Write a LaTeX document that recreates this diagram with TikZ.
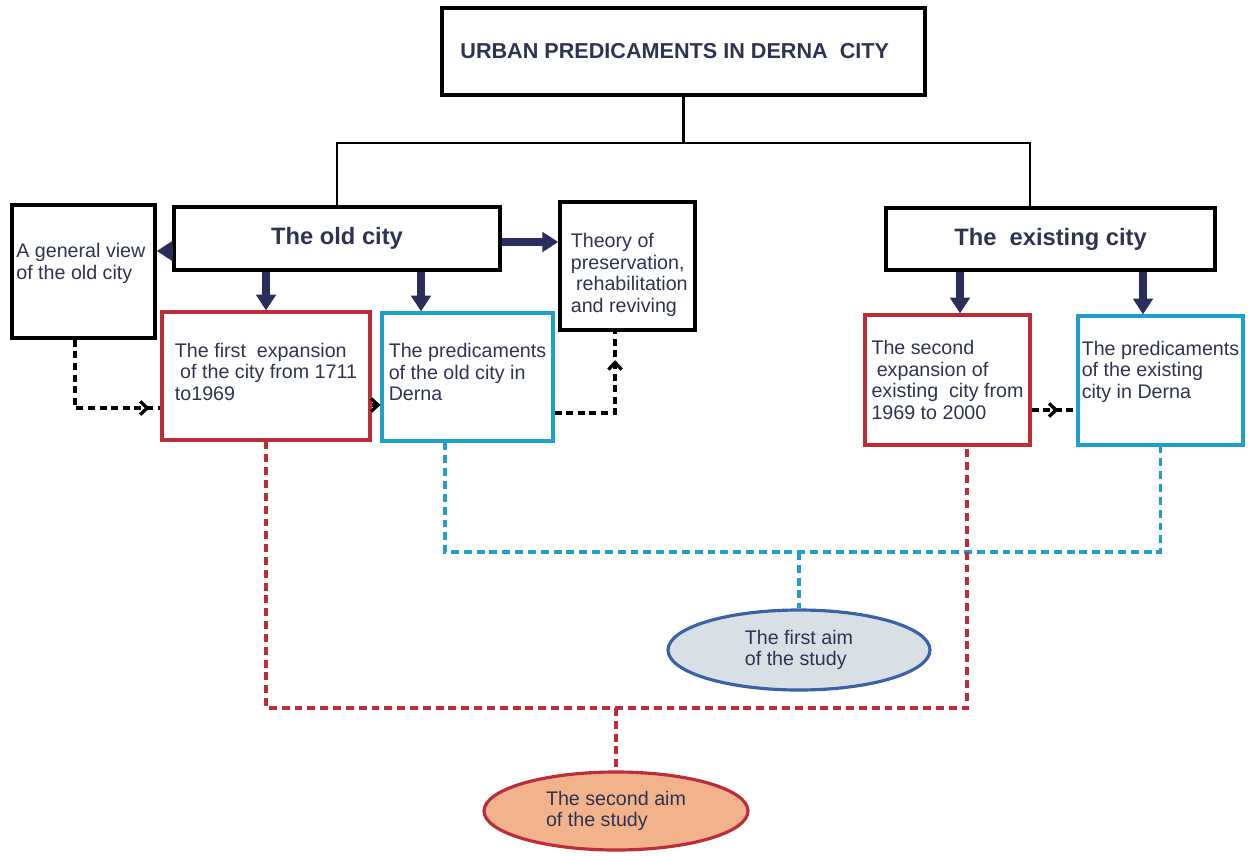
\documentclass[tikz,border=0pt]{standalone}
\usepackage{fontspec}
\setmainfont{Liberation Sans}
\usetikzlibrary{arrows.meta, shapes.geometric, decorations.markings}

\definecolor{txtcol}{HTML}{2E3352}
\definecolor{navyc}{HTML}{2B2D5C}
\definecolor{redc}{HTML}{BD2C37}
\definecolor{cyanc}{HTML}{1E9FCC}
\definecolor{aimblue}{HTML}{3B62A8}
\definecolor{aimgrey}{HTML}{D8DFE5}
\definecolor{aimsalmon}{HTML}{F1B28C}

\begin{document}
\begin{tikzpicture}[x=0.02cm, y=-0.02cm, font=\fontsize{11.2}{12.3}\selectfont]
        \tikzset{
            dims/.style 2 args={minimum width=#1*0.02cm, minimum height=#2*0.02cm},
            box/.style={draw=black, line width=2pt, align=left, text=txtcol, inner sep=2pt},
            redbox/.style={box, draw=redc, line width=1.8pt},
            cyanbox/.style={box, draw=cyanc, line width=1.8pt},
            boxtext/.style={align=left, text=txtcol, inner sep=0pt},
            headbox/.style={box, font=\fontsize{13.5}{15}\selectfont\bfseries},
            aim/.style={ellipse, line width=1.8pt, align=left, text=txtcol, inner sep=0pt},
            treeline/.style={draw=black, line width=1.6pt},
            bigarrow/.style={draw=navyc, line width=4.4pt, -{Triangle[length=9pt, width=11pt]}},
            dashline/.style={draw=black, line width=1.9pt, dash pattern=on 4pt off 2.6pt},
            reddash/.style={draw=redc, line width=1.8pt, dash pattern=on 4.5pt off 2.8pt},
            cyandash/.style={draw=cyanc, line width=1.8pt, dash pattern=on 4.5pt off 2.8pt},
            tipat/.style={postaction={decorate}, decoration={markings,
                mark=at position #1 with {\arrow{Straight Barb[length=4pt, width=7.5pt]}}}}
        }
        \useasboundingbox (0,0) rectangle (1253,855);

        % top of the tree
        \node[box, dims={483}{87}, font=\fontsize{12.3}{14}\selectfont\bfseries] (title) at (683.5,51.5) {URBAN PREDICAMENTS IN DERNA\ \ CITY\hspace*{10pt}};
        \node[headbox, dims={326}{63}] (old) at (337,238.5) {The old city};
        \node[headbox, dims={329}{62}] (existing) at (1050.5,239) {The\ \ existing city};

        % boxes round the old city
        \node[box, dims={143}{133}, label={[boxtext, xshift=-1.5pt, yshift=4.5pt]center:{A general view\\of the old city}}] (general) at (83.5,271.5) {};
        \node[box, dims={135}{128}, label={[boxtext, xshift=1pt, yshift=-5pt]center:{Theory of\\preservation,\\\hspace*{3pt}rehabilitation\\and reviving}}] (theory) at (627.5,266) {};
        \node[redbox, dims={208}{128}, label={[boxtext, yshift=2.3pt]center:{The first\ \ expansion\\\hspace*{3pt}of the city from 1711\\to1969}}] (exp1) at (266,376) {};
        \node[cyanbox, dims={171}{128}, label={[boxtext, yshift=2.8pt]center:{The predicaments\\of the old city in\\Derna}}] (pred1) at (467.5,377) {};

        % boxes under the existing city
        \node[redbox, dims={165}{130}, label={[boxtext]center:{The second\\\hspace*{3pt}expansion of\\existing\ \ city from\\1969 to 2000}}] (exp2) at (947.5,380) {};
        \node[cyanbox, dims={165}{129}, label={[boxtext, yshift=5pt]center:{The predicaments\\of the existing\\city in Derna}}] (pred2) at (1160.5,380.5) {};

        % aims
        \node[aim, draw=aimblue, fill=aimgrey, dims={262}{80}] (aim1) at (799,650) {The first aim\\of the study};
        \node[aim, draw=redc, fill=aimsalmon, dims={264}{78}] (aim2) at (616,811) {The second aim\\of the study};

        \coordinate (fork) at (683.5,143);
        \coordinate (cyanbus) at (799,552);
        \coordinate (redbus) at (616,708);

        % tree lines
        \draw[treeline] (title.south) -- (fork);
        \draw[treeline] (old.north) |- (fork) -| (existing.north -| 1030,0);

        % thick arrows
        \draw[bigarrow] (old.west |- 0,251) -- (general.east |- 0,251);
        \draw[bigarrow] (old.east |- 0,242) -- (theory.west |- 0,242);
        \draw[bigarrow] (old.south -| exp1.north) -- (exp1.north);
        \draw[bigarrow] (old.south -| 421,0) -- (pred1.north -| 421,0);
        \draw[bigarrow] (existing.south -| 960,0) -- (exp2.north -| 960,0);
        \draw[bigarrow] (existing.south -| 1143,0) -- (pred2.north -| 1143,0);

        % dashed black arrows
        \draw[dashline, tipat=0.93] (general.south -| 75,0) |- (exp1.west |- 0,408);
        \draw[dashline, -{Straight Barb[length=4pt, width=7.5pt]}] (exp1.east |- 0,405) -- (pred1.west |- 0,405);
        \draw[dashline, tipat=0.8] (pred1.east |- 0,413) -| (theory.south -| 615,0);
        \draw[dashline, tipat=0.6] (exp2.east |- 0,410) -- (pred2.west |- 0,410);

        % links to the aims
        \draw[cyandash] (pred1.south -| 445,0) |- (cyanbus) -| (pred2.south);
        \draw[cyandash] (cyanbus) -- (aim1.north);
        \draw[reddash] (exp1.south) |- (redbus) -| (exp2.south -| 967,0);
        \draw[reddash] (redbus) -- (aim2.north);
    \end{tikzpicture}
\end{document}
